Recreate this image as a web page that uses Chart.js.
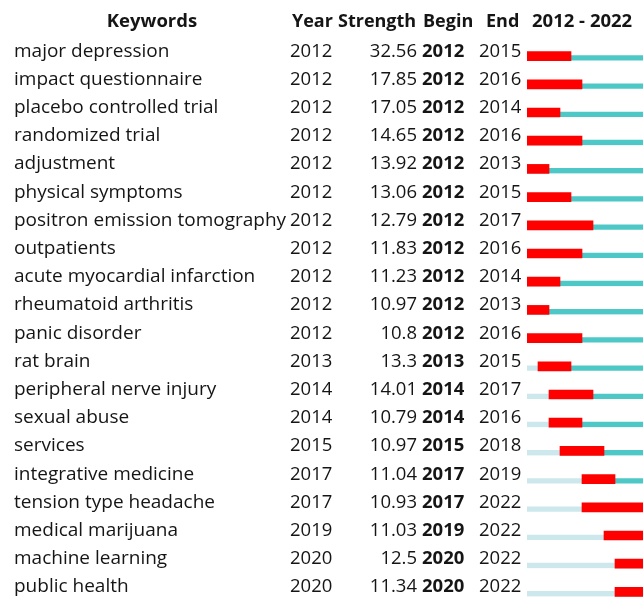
<!DOCTYPE html>
<html>
<head>
<meta charset="utf-8">
<script src="https://cdn.jsdelivr.net/npm/chart.js@4"></script>
<style>
  html, body { margin: 0; padding: 0; background: #fff; overflow: hidden; width: 643px; height: 598px; }
  canvas { display: block; }
</style>
</head>
<body>
<canvas id="burstChart" width="660" height="620"></canvas>
<script>
const keywords = [
  'major depression', 'impact questionnaire', 'placebo controlled trial', 'randomized trial',
  'adjustment', 'physical symptoms', 'positron emission tomography', 'outpatients',
  'acute myocardial infarction', 'rheumatoid arthritis', 'panic disorder', 'rat brain',
  'peripheral nerve injury', 'sexual abuse', 'services', 'integrative medicine',
  'tension type headache', 'medical marijuana', 'machine learning', 'public health'
];
const firstYear = [2012, 2012, 2012, 2012, 2012, 2012, 2012, 2012, 2012, 2012,
  2012, 2013, 2014, 2014, 2015, 2017, 2017, 2019, 2020, 2020];
const strength = [32.56, 17.85, 17.05, 14.65, 13.92, 13.06, 12.79, 11.83, 11.23, 10.97,
  10.8, 13.3, 14.01, 10.79, 10.97, 11.04, 10.93, 11.03, 12.5, 11.34];
const beginYear = [2012, 2012, 2012, 2012, 2012, 2012, 2012, 2012, 2012, 2012,
  2012, 2013, 2014, 2014, 2015, 2017, 2017, 2019, 2020, 2020];
const endYear = [2015, 2016, 2014, 2016, 2013, 2015, 2017, 2016, 2014, 2013,
  2016, 2015, 2017, 2016, 2018, 2019, 2022, 2022, 2022, 2022];
const spanStart = 2012;
const spanEnd = 2022;

// bars: light before the keyword shows up, teal after, red for the burst
const burstBars = keywords.map((k, i) => [beginYear[i], endYear[i] + 1]);
const activeBars = keywords.map((k, i) => [firstYear[i], spanEnd + 1]);
const quietBars = keywords.map((k, i) => firstYear[i] > spanStart ? [spanStart, firstYear[i]] : null);

const font = '"Open Sans", "Noto Sans", sans-serif';

const tableText = {
  id: 'tableText',
  afterDraw(chart) {
    const ctx = chart.ctx;
    const yScale = chart.scales.y;
    ctx.save();
    ctx.fillStyle = '#151515';
    ctx.textBaseline = 'alphabetic';

    // header row
    ctx.font = 'bold 18.5px ' + font;
    ctx.textAlign = 'center';
    ctx.fillText('Keywords', 152, 27);
    ctx.textAlign = 'left';
    ctx.font = 'bold 18px ' + font;
    ctx.fillText('Year', 292, 27);
    ctx.fillText('Strength', 338, 27);
    ctx.fillText('Begin', 423, 27);
    ctx.fillText('End', 486, 27);
    ctx.font = 'bold 18.5px ' + font;
    ctx.fillText(spanStart + ' - ' + spanEnd, 532, 27);

    keywords.forEach((k, i) => {
      const y = yScale.getPixelForValue(i) + 0.5;
      ctx.font = '19px ' + font;
      ctx.textAlign = 'left';
      ctx.fillText(k, 14, y);
      ctx.font = '18.5px ' + font;
      ctx.fillText(String(firstYear[i]), 290, y);
      ctx.textAlign = 'right';
      ctx.fillText(String(strength[i]), 417, y);
      ctx.textAlign = 'left';
      ctx.fillText(String(endYear[i]), 479, y);
      ctx.font = 'bold 18.5px ' + font;
      ctx.fillText(String(beginYear[i]), 422, y);
    });
    ctx.restore();
  }
};

const ctx = document.getElementById('burstChart').getContext('2d');
const chart = new Chart(ctx, {
  type: 'bar',
  data: {
    labels: keywords,
    datasets: [
      {
        label: 'burst',
        data: burstBars,
        backgroundColor: '#ff0000',
        barThickness: 9,
        grouped: false,
        borderWidth: 0,
      },
      {
        label: 'active',
        data: activeBars,
        backgroundColor: '#4ec8c6',
        borderColor: 'rgba(0,0,0,0)',
        borderWidth: { top: 4, right: 0, bottom: 0, left: 0 },
        borderSkipped: false,
        barThickness: 9,
        grouped: false,
      },
      {
        label: 'quiet',
        data: quietBars,
        backgroundColor: '#cde8ec',
        borderColor: 'rgba(0,0,0,0)',
        borderWidth: { top: 4, right: 0, bottom: 0, left: 0 },
        borderSkipped: false,
        barThickness: 9,
        grouped: false,
      },
    ],
  },
  options: {
    indexAxis: 'y',
    responsive: false,
    devicePixelRatio: 1,
    animation: false,
    layout: { padding: { left: 527, right: 12, top: 42, bottom: 14 } },
    scales: {
      x: { type: 'linear', min: spanStart, max: spanEnd + 1, display: false },
      y: { type: 'category', display: false, offset: true },
    },
    plugins: {
      legend: { display: false },
      tooltip: { enabled: false },
    },
  },
  plugins: [tableText],
});
</script>
</body>
</html>
